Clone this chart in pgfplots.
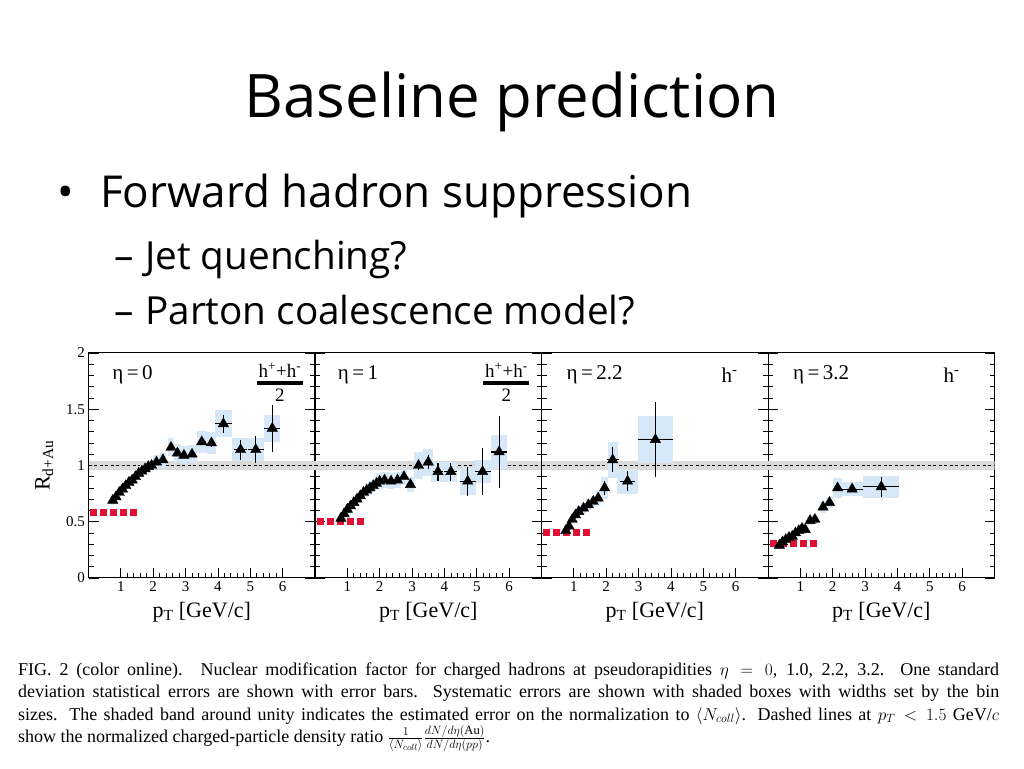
\documentclass[border=0pt]{standalone}
\usepackage{amsmath}
\usepackage{fontspec}
\setmainfont{Liberation Serif}
\newfontfamily\slidefont{Open Sans}
\usepackage{pgfplots}
\usepackage{pgfplotstable}
\pgfplotsset{compat=1.18}

\definecolor{sysblue}{RGB}{214,231,247}
\definecolor{bandgray}{RGB}{218,218,218}
\definecolor{predred}{RGB}{222,16,52}

% columns: pT, R, x error, stat error, box half width, syst half height
\pgfplotstableread{
x    y    ex   ey   bx   sy
0.75 0.69 0    0.01 0.05 0.04
0.85 0.72 0    0.01 0.05 0.04
0.95 0.76 0    0.01 0.05 0.04
1.05 0.79 0    0.01 0.05 0.04
1.15 0.82 0    0.01 0.05 0.04
1.25 0.85 0    0.01 0.05 0.04
1.35 0.87 0    0.01 0.05 0.04
1.45 0.90 0    0.01 0.05 0.05
1.55 0.93 0    0.01 0.05 0.05
1.65 0.95 0    0.01 0.05 0.05
1.75 0.97 0    0.01 0.05 0.05
1.85 0.99 0    0.01 0.05 0.05
1.95 1.00 0    0.01 0.05 0.05
2.10 1.03 0    0.01 0.10 0.06
2.30 1.05 0    0.01 0.10 0.06
2.55 1.16 0    0.02 0.10 0.08
2.75 1.11 0    0.02 0.10 0.08
2.95 1.09 0    0.02 0.10 0.08
3.20 1.10 0    0.02 0.15 0.08
3.50 1.21 0.12 0.03 0.15 0.10
3.80 1.20 0.12 0.04 0.15 0.10
4.17 1.37 0.25 0.08 0.25 0.12
4.70 1.14 0.20 0.09 0.25 0.10
5.17 1.14 0.25 0.12 0.25 0.10
5.68 1.33 0.25 0.21 0.25 0.12
}\etazero

\pgfplotstableread{
x    y    ex   ey   bx   sy
0.80 0.53 0    0.01 0.05 0.05
0.90 0.57 0    0.01 0.05 0.05
1.00 0.61 0    0.01 0.05 0.05
1.10 0.64 0    0.01 0.05 0.05
1.20 0.67 0    0.01 0.05 0.05
1.30 0.70 0    0.01 0.05 0.05
1.40 0.73 0    0.01 0.05 0.05
1.50 0.76 0    0.01 0.05 0.05
1.60 0.78 0    0.01 0.05 0.06
1.70 0.80 0    0.01 0.05 0.06
1.80 0.82 0    0.01 0.05 0.06
1.90 0.84 0    0.01 0.05 0.06
2.00 0.86 0    0.01 0.10 0.07
2.15 0.87 0    0.01 0.10 0.07
2.35 0.86 0    0.01 0.10 0.07
2.55 0.87 0    0.01 0.10 0.07
2.75 0.90 0    0.02 0.10 0.07
2.95 0.83 0    0.02 0.10 0.07
3.20 1.00 0.10 0.04 0.15 0.12
3.50 1.03 0.12 0.06 0.15 0.12
3.80 0.945 0.15 0.08 0.20 0.09
4.20 0.945 0.20 0.08 0.20 0.09
4.72 0.86 0.25 0.13 0.25 0.12
5.18 0.945 0.25 0.21 0.25 0.10
5.69 1.12 0.25 0.32 0.25 0.15
}\etaone

\pgfplotstableread{
x    y    ex   ey   bx   sy
0.75 0.42 0    0.01 0.05 0.04
0.85 0.46 0    0.01 0.05 0.04
0.95 0.52 0    0.01 0.05 0.04
1.05 0.56 0    0.01 0.05 0.04
1.15 0.59 0    0.01 0.05 0.05
1.30 0.62 0    0.01 0.08 0.05
1.45 0.65 0    0.01 0.08 0.05
1.60 0.68 0    0.01 0.08 0.05
1.75 0.71 0    0.02 0.08 0.06
1.95 0.80 0    0.06 0.10 0.10
2.20 1.05 0.18 0.11 0.15 0.16
2.66 0.86 0.22 0.09 0.33 0.11
3.52 1.23 0.55 0.33 0.55 0.21
}\etatwo

\pgfplotstableread{
x    y    ex   ey   bx   sy
0.35 0.29 0    0.01 0.05 0.03
0.45 0.32 0    0.01 0.05 0.03
0.55 0.34 0    0.01 0.05 0.03
0.65 0.36 0    0.01 0.05 0.03
0.75 0.37 0    0.01 0.05 0.03
0.85 0.40 0    0.01 0.05 0.03
0.95 0.42 0    0.01 0.05 0.04
1.05 0.44 0    0.01 0.05 0.04
1.15 0.43 0    0.01 0.05 0.04
1.30 0.51 0    0.01 0.08 0.04
1.45 0.52 0    0.01 0.08 0.04
1.70 0.63 0    0.01 0.10 0.05
1.90 0.67 0    0.01 0.10 0.05
2.15 0.80 0    0.02 0.15 0.09
2.60 0.79 0.35 0.02 0.35 0.06
3.50 0.81 0.55 0.09 0.55 0.10
}\etathree

% shaded systematic boxes, one per table row
\newcommand{\sysboxes}[1]{%
  \pgfplotstablegetrowsof{#1}%
  \pgfmathtruncatemacro{\lastrow}{\pgfplotsretval-1}%
  \pgfplotsforeachungrouped \rowi in {0,...,\lastrow}{%
    \pgfplotstablegetelem{\rowi}{x}\of{#1}\let\bxc\pgfplotsretval
    \pgfplotstablegetelem{\rowi}{y}\of{#1}\let\byc\pgfplotsretval
    \pgfplotstablegetelem{\rowi}{bx}\of{#1}\let\bxw\pgfplotsretval
    \pgfplotstablegetelem{\rowi}{sy}\of{#1}\let\byw\pgfplotsretval
    \pgfmathsetmacro{\xa}{\bxc-\bxw}\pgfmathsetmacro{\xb}{\bxc+\bxw}%
    \pgfmathsetmacro{\ya}{\byc-\byw}\pgfmathsetmacro{\yb}{\byc+\byw}%
    \edef\tmp{\noexpand\fill[sysblue] (axis cs:\xa,\ya) rectangle (axis cs:\xb,\yb);}%
    \tmp
  }%
}

\newcommand{\panelbody}[2]{%
  \fill[bandgray] (axis cs:0,0.96) rectangle (axis cs:7,1.04);
  \addplot[black, line width=0.9pt, dash pattern=on 3pt off 2.5pt] coordinates {(0,1) (7,1)};
  \sysboxes{#1}
  \addplot[predred, line width=7pt, dash pattern=on 7pt off 3pt] coordinates {(0.05,#2) (1.5,#2)};
  \addplot[only marks, mark=triangle*, mark size=6pt, black,
    error bars/.cd, x dir=both, x explicit, y dir=both, y explicit,
    error mark=none, error bar style={line width=1.1pt, black}]
    table[x=x, y=y, x error=ex, y error=ey]{#1};
}

\newcommand{\hfrac}{\shortstack{h\textsuperscript{+}+h\textsuperscript{-}\\[1pt]\rule{46pt}{3.5pt}\\[1pt]2}}

\pgfplotsset{panel/.style={
  scale only axis, width=226.5pt, height=225pt,
  anchor=south west,
  xmin=0, xmax=7, ymin=0, ymax=2,
  xtick={1,...,6}, ytick={0,0.5,1,1.5,2},
  minor x tick num=4, minor y tick num=4,
  tick align=inside, xtick pos=left, ytick pos=both,
  major tick length=10pt, minor tick length=5pt,
  tick style={black, line width=0.8pt},
  axis line style={line width=1pt},
  tick label style={font=\fontsize{15}{15}\selectfont},
  /pgf/number format/assume math mode=true,
  xlabel={p\textsubscript{T} [GeV/c]},
  every axis x label/.style={at={(axis description cs:0.5,-0.15)}, anchor=center,
    font=\fontsize{22}{22}\selectfont},
}}

\begin{document}
\begin{tikzpicture}
\useasboundingbox (0,0) rectangle (1024pt,768pt);

% slide text
\node[anchor=base, inner sep=0pt, font=\slidefont\fontsize{60}{60}\selectfont] at (512pt,650pt) {Baseline prediction};
\node[anchor=base west, inner sep=0pt, font=\slidefont\fontsize{44}{44}\selectfont] at (57pt,560pt) {•};
\node[anchor=base west, inner sep=0pt, font=\slidefont\fontsize{44}{44}\selectfont] at (100pt,560pt) {Forward hadron suppression};
\node[anchor=base west, inner sep=0pt, font=\slidefont\fontsize{38.7}{38.7}\selectfont] at (114pt,498pt) {–};
\node[anchor=base west, inner sep=0pt, font=\slidefont\fontsize{38.7}{38.7}\selectfont] at (145pt,498pt) {Jet quenching?};
\node[anchor=base west, inner sep=0pt, font=\slidefont\fontsize{38.7}{38.7}\selectfont] at (114pt,443pt) {–};
\node[anchor=base west, inner sep=0pt, font=\slidefont\fontsize{38.7}{38.7}\selectfont] at (145pt,443pt) {Parton coalescence model?};

\begin{axis}[panel, at={(88.5pt,190pt)},
  yticklabel pos=left,
  ylabel={R\textsubscript{d+Au}},
  every axis y label/.style={at={(axis description cs:-0.195,0.5)}, rotate=90, anchor=center,
    font=\fontsize{22}{22}\selectfont}]
  \panelbody{\etazero}{0.58}
  \node[anchor=west, font=\fontsize{21}{21}\selectfont] at (rel axis cs:0.09,0.902) {η\,=\,0};
  \node[font=\fontsize{19}{19}\selectfont] at (rel axis cs:0.845,0.87) {\hfrac};
\end{axis}

\begin{axis}[panel, at={(315pt,190pt)}, yticklabels={}]
  \panelbody{\etaone}{0.505}
  \node[anchor=west, font=\fontsize{21}{21}\selectfont] at (rel axis cs:0.085,0.902) {η\,=\,1};
  \node[font=\fontsize{19}{19}\selectfont] at (rel axis cs:0.845,0.87) {\hfrac};
\end{axis}

\begin{axis}[panel, at={(541.5pt,190pt)}, yticklabels={}]
  \panelbody{\etatwo}{0.405}
  \node[anchor=west, font=\fontsize{21}{21}\selectfont] at (rel axis cs:0.095,0.902) {η\,=\,2.2};
  \node[font=\fontsize{21}{21}\selectfont] at (rel axis cs:0.83,0.902) {h\textsuperscript{-}};
\end{axis}

\begin{axis}[panel, at={(768pt,190pt)}, yticklabels={}]
  \panelbody{\etathree}{0.305}
  \node[anchor=west, font=\fontsize{21}{21}\selectfont] at (rel axis cs:0.095,0.902) {η\,=\,3.2};
  \node[font=\fontsize{21}{21}\selectfont] at (rel axis cs:0.81,0.902) {h\textsuperscript{-}};
\end{axis}

% caption, one justified line per node
\begin{scope}[every node/.style={anchor=base west, inner sep=0pt, font=\fontsize{18}{18}\selectfont}]
\node at (18pt,93pt) {\makebox[981pt][s]{FIG. 2 (color online).\quad Nuclear modification factor for charged hadrons at pseudorapidities $\eta = 0$, 1.0, 2.2, 3.2. One standard}};
\node at (18pt,70.5pt) {\makebox[981pt][s]{deviation statistical errors are shown with error bars. Systematic errors are shown with shaded boxes with widths set by the bin}};
\node at (18pt,48pt) {\makebox[981pt][s]{sizes. The shaded band around unity indicates the estimated error on the normalization to $\langle N_{coll}\rangle$. Dashed lines at $p_T < 1.5$ GeV/$c$}};
\node at (18pt,25.5pt) {show the normalized charged-particle density ratio $\frac{1}{\langle N_{coll}\rangle}\frac{dN/d\eta(\mathrm{Au})}{dN/d\eta(pp)}$.};
\end{scope}
\end{tikzpicture}
\end{document}
